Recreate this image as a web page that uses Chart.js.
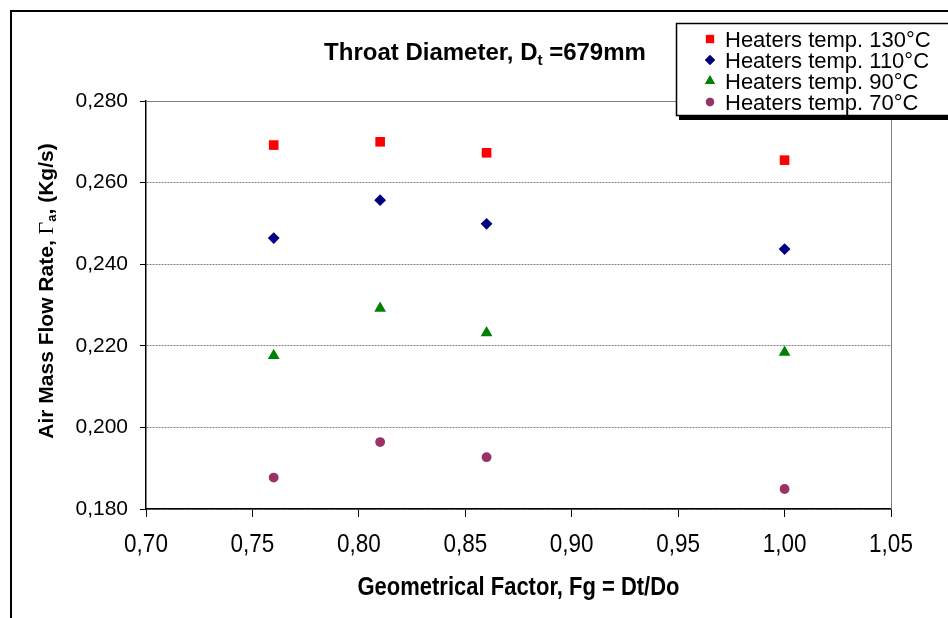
<!DOCTYPE html>
<html>
<head>
<meta charset="utf-8">
<script src="https://cdn.jsdelivr.net/npm/chart.js@4.4.0/dist/chart.umd.min.js"></script>
<style>
  html, body { margin: 0; padding: 0; background: #fff; }
  #wrap { width: 948px; height: 618px; position: relative; }
</style>
</head>
<body>
<div id="wrap"><canvas id="chart"></canvas></div>
<script>
(function () {
  'use strict';

  const geoFactor = [0.76, 0.81, 0.86, 1.00];
  const heater130 = [0.2692, 0.2700, 0.2673, 0.2655];
  const heater110 = [0.2464, 0.2557, 0.2499, 0.2437];
  const heater90 = [0.2176, 0.2292, 0.2232, 0.2184];
  const heater70 = [0.1877, 0.1964, 0.1927, 0.1849];
  const seriesLabels = ['Heaters temp. 130°C', 'Heaters temp. 110°C', 'Heaters temp. 90°C', 'Heaters temp. 70°C'];

  const SANS = '"Liberation Sans", Arial, sans-serif';
  const SERIF = '"Liberation Serif", "Times New Roman", serif';

  function pts(vals) {
    return geoFactor.map((x, i) => ({ x: x, y: vals[i] }));
  }

  function comma(v, d) {
    return v.toFixed(d).replace('.', ',');
  }

  // draws text pieces one after another, centred on cx
  function drawRuns(ctx, runs, cx, baseline) {
    let total = 0;
    runs.forEach(r => { ctx.font = r.font; r.w = ctx.measureText(r.text).width; total += r.w; });
    let x = cx - total / 2;
    ctx.textAlign = 'left';
    ctx.textBaseline = 'alphabetic';
    runs.forEach(r => {
      ctx.font = r.font;
      ctx.fillText(r.text, x, baseline + (r.dy || 0));
      x += r.w;
    });
  }

  const decorations = {
    id: 'decorations',
    afterDraw(chart) {
      const ctx = chart.ctx;
      const area = chart.chartArea;
      const xs = chart.scales.x;
      ctx.save();
      ctx.fillStyle = '#000';

      // plot area border (top and right, grey)
      ctx.strokeStyle = '#808080';
      ctx.lineWidth = 1;
      ctx.beginPath();
      ctx.moveTo(area.left, area.top + 0.5);
      ctx.lineTo(area.right + 0.5, area.top + 0.5);
      ctx.lineTo(area.right + 0.5, area.bottom);
      ctx.stroke();

      // outer frame
      ctx.strokeStyle = '#000';
      ctx.lineWidth = 2;
      ctx.beginPath();
      ctx.moveTo(11, 630);
      ctx.lineTo(11, 11);
      ctx.lineTo(960, 11);
      ctx.stroke();

      // title
      drawRuns(ctx, [
        { text: 'Throat Diameter, D', font: 'bold 24px ' + SANS },
        { text: 't', font: 'bold 15px ' + SANS, dy: 5 },
        { text: ' =679mm', font: 'bold 24px ' + SANS }
      ], 485, 60);

      // y axis title
      ctx.save();
      ctx.translate(45, 291);
      ctx.rotate(-Math.PI / 2);
      drawRuns(ctx, [
        { text: 'Air Mass Flow Rate, ', font: 'bold 21px ' + SANS },
        { text: 'Γ', font: '22px ' + SERIF },
        { text: 'a', font: 'bold 13px ' + SANS, dy: 3 },
        { text: ', (Kg/s)', font: 'bold 21px ' + SANS }
      ], 0, 7.5);
      ctx.restore();

      // x tick labels and title, slightly stretched vertically like the original
      const stretch = 1.15;
      ctx.textAlign = 'center';
      ctx.textBaseline = 'alphabetic';
      ctx.font = '22.5px ' + SANS;
      xs.ticks.forEach(t => {
        const px = xs.getPixelForValue(t.value);
        ctx.save();
        ctx.translate(px, 552);
        ctx.scale(1, stretch);
        ctx.fillText(comma(t.value, 2), 0, 0);
        ctx.restore();
      });
      ctx.save();
      ctx.translate((area.left + area.right) / 2, 595);
      ctx.scale(1, stretch);
      ctx.font = 'bold 22px ' + SANS;
      ctx.fillText('Geometrical Factor, Fg = Dt/Do', 0, 0);
      ctx.restore();

      // legend box with shadow
      const lx = 676, ly = 23, lb = 115;
      ctx.fillStyle = '#000';
      ctx.fillRect(679, lb, 300, 5);
      ctx.fillStyle = '#fff';
      ctx.fillRect(lx, ly, 300, lb - ly);
      ctx.strokeStyle = '#000';
      ctx.lineWidth = 1.5;
      ctx.strokeRect(lx + 0.5, ly + 0.5, 300, lb - ly);

      chart.data.datasets.forEach((ds, i) => {
        const rowY = 39 + i * 21;
        ctx.fillStyle = ds.backgroundColor;
        Chart.helpers.drawPoint(ctx, {
          pointStyle: ds.pointStyle,
          radius: ds.pointRadius * 0.85,
          borderWidth: 0,
          rotation: 0
        }, 710, rowY);
        ctx.fill();
        ctx.fillStyle = '#000';
        ctx.font = '22px ' + SANS;
        ctx.textAlign = 'left';
        ctx.textBaseline = 'alphabetic';
        ctx.fillText(ds.label, 725, rowY + 8);
      });

      ctx.restore();
    }
  };

  new Chart(document.getElementById('chart'), {
    type: 'scatter',
    data: {
      datasets: [
        {
          label: seriesLabels[0],
          data: pts(heater130),
          backgroundColor: '#ff0000',
          borderColor: '#ff0000',
          borderWidth: 0,
          pointStyle: 'rect',
          pointRadius: 6.8
        },
        {
          label: seriesLabels[1],
          data: pts(heater110),
          backgroundColor: '#000080',
          borderColor: '#000080',
          borderWidth: 0,
          pointStyle: 'rectRot',
          pointRadius: 5.9
        },
        {
          label: seriesLabels[2],
          data: pts(heater90),
          backgroundColor: '#008000',
          borderColor: '#008000',
          borderWidth: 0,
          pointStyle: 'triangle',
          pointRadius: 6.8
        },
        {
          label: seriesLabels[3],
          data: pts(heater70),
          backgroundColor: '#993366',
          borderColor: '#993366',
          borderWidth: 0,
          pointStyle: 'circle',
          pointRadius: 4.9
        }
      ]
    },
    options: {
      responsive: true,
      maintainAspectRatio: false,
      animation: false,
      devicePixelRatio: 1,
      layout: {
        padding: { top: 101, right: 57, left: 0, bottom: 0 }
      },
      plugins: {
        legend: { display: false },
        title: { display: false },
        tooltip: { enabled: false }
      },
      scales: {
        x: {
          type: 'linear',
          min: 0.7,
          max: 1.05,
          ticks: { stepSize: 0.05, display: false },
          grid: {
            drawOnChartArea: false,
            drawTicks: true,
            tickLength: 8,
            tickColor: '#000'
          },
          border: { color: '#000', width: 1.5 },
          afterFit: function (scale) { scale.height = 109; }
        },
        y: {
          min: 0.18,
          max: 0.28,
          ticks: {
            stepSize: 0.02,
            padding: 12,
            color: '#000',
            font: { family: SANS, size: 21 },
            callback: function (v) { return comma(v, 3); }
          },
          grid: {
            color: '#808080',
            lineWidth: 1,
            tickColor: '#000',
            tickLength: 6
          },
          border: { color: '#000', width: 1.5, dash: [2, 1] },
          afterFit: function (scale) { scale.width = 146; }
        }
      }
    },
    plugins: [decorations]
  });
})();
</script>
</body>
</html>
